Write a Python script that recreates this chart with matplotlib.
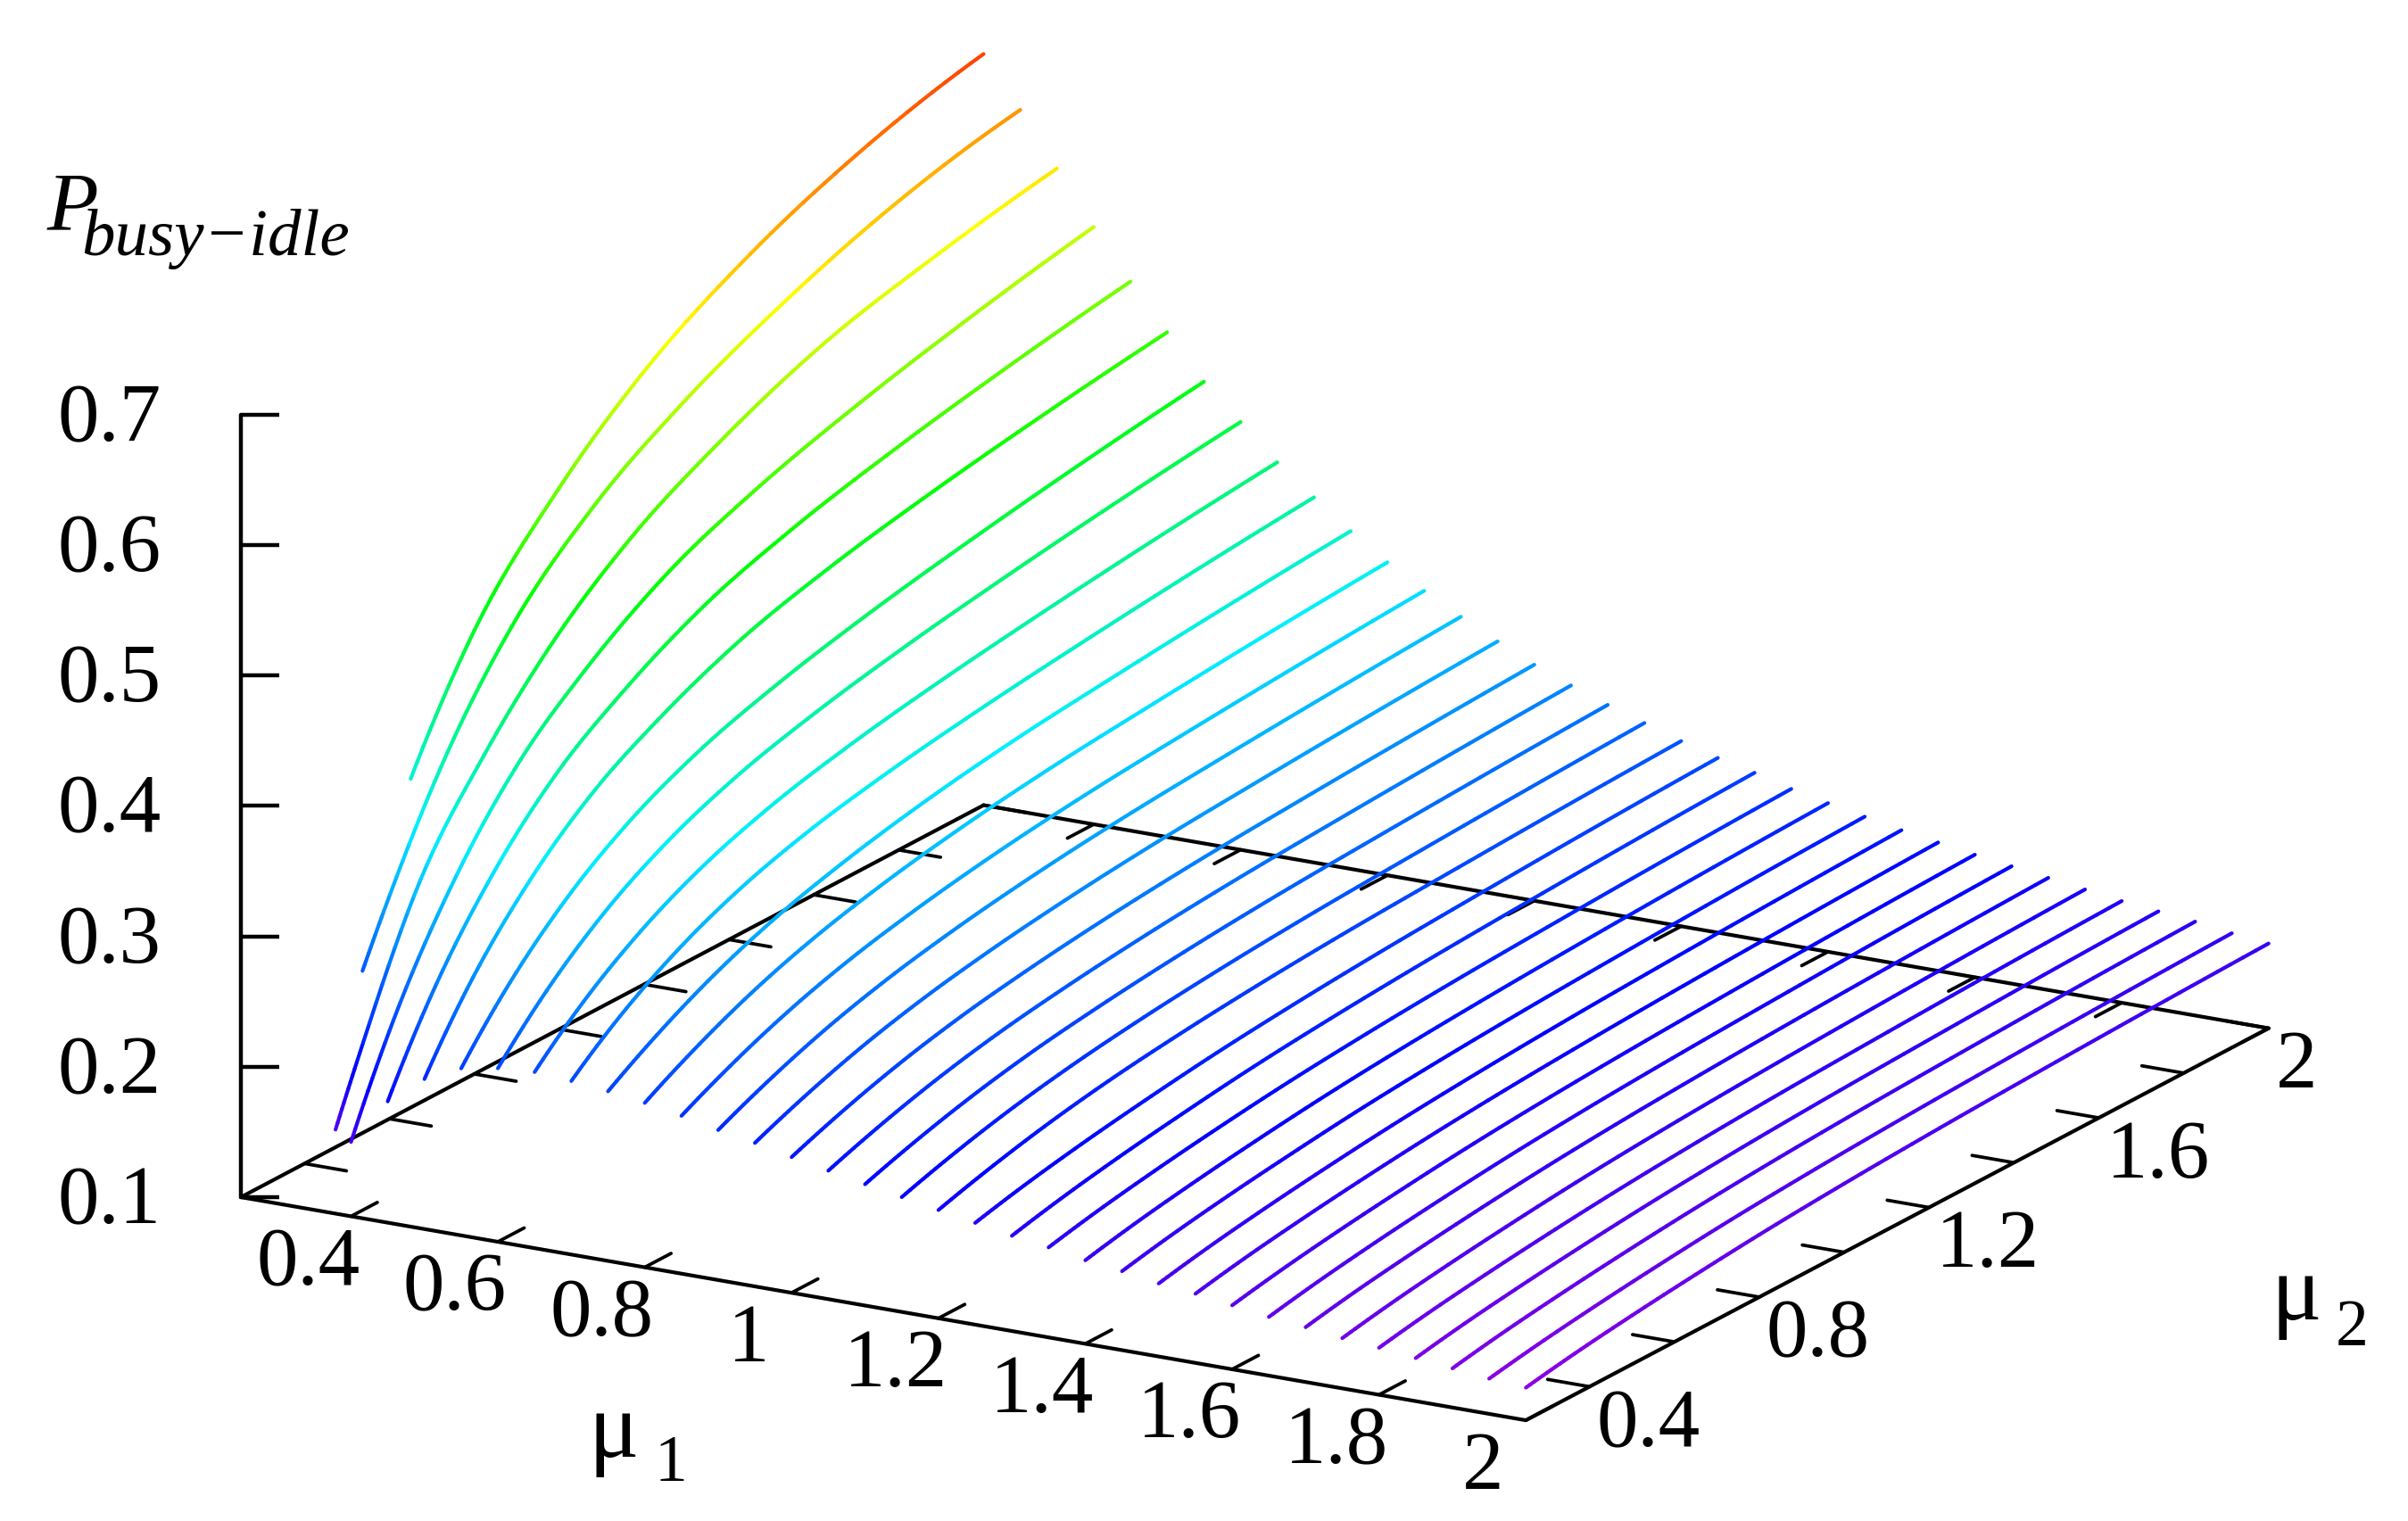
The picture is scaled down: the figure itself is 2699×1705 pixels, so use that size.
#!/usr/bin/python3
import numpy as np
import matplotlib
matplotlib.use('Agg')
import matplotlib.pyplot as plt
from matplotlib.collections import LineCollection
from matplotlib.colors import LinearSegmentedColormap, Normalize

nan = np.nan

# one curve per mu1 value
MU1 = [0.25, 0.30, 0.35, 0.40, 0.45, 0.50, 0.55, 0.60, 0.65, 0.70, 0.75, 0.80,
       0.85, 0.90, 0.95, 1.00, 1.05, 1.10, 1.15, 1.20, 1.25, 1.30, 1.35, 1.40,
       1.45, 1.50, 1.55, 1.60, 1.65, 1.70, 1.75, 1.80, 1.85, 1.90, 1.95, 2.00]

# where each curve begins
MU2_START = [0.65, 0.45, 0.30] + [0.25] * 33
P_START = [0.352, 0.244, 0.153, 0.157, 0.193, 0.215, 0.228, 0.233, 0.235, 0.233,
           0.230, 0.226, 0.221, 0.215, 0.210, 0.204, 0.1985, 0.193, 0.188, 0.183,
           0.178, 0.173, 0.169, 0.164, 0.1605, 0.156, 0.153, 0.149, 0.145, 0.142,
           0.1385, 0.136, 0.133, 0.130, 0.127, 0.125]

# values at these mu2
MU2_GRID = [0.35, 0.5, 0.65, 0.8, 1.0, 1.2, 1.45, 1.7, 2.0]
P_GRID = [
    [nan, nan, nan, 0.440, 0.515, 0.570, 0.617, 0.650, 0.676],
    [nan, 0.281, 0.377, 0.447, 0.508, 0.549, 0.587, 0.616, 0.638],
    [0.196, 0.310, 0.380, 0.435, 0.488, 0.524, 0.558, 0.579, 0.598],
    [0.2332, 0.3194, 0.3816, 0.4237, 0.4658, 0.4930, 0.5179, 0.5380, 0.558],
    [0.2553, 0.3258, 0.3767, 0.4111, 0.4456, 0.4679, 0.4882, 0.5046, 0.521],
    [0.2667, 0.3252, 0.3673, 0.3959, 0.4244, 0.4429, 0.4598, 0.4734, 0.487],
    [0.2687, 0.3161, 0.3500, 0.3738, 0.3952, 0.4111, 0.4269, 0.4404, 0.454],
    [0.2681, 0.3091, 0.3383, 0.3588, 0.3773, 0.3910, 0.4046, 0.4163, 0.428],
    [0.2651, 0.3001, 0.3252, 0.3427, 0.3586, 0.3703, 0.3820, 0.3920, 0.402],
    [0.2595, 0.2903, 0.3124, 0.3278, 0.3418, 0.3521, 0.3624, 0.3712, 0.380],
    [0.2506, 0.2764, 0.2958, 0.3100, 0.3242, 0.3345, 0.3435, 0.3513, 0.359],
    [0.2442, 0.2670, 0.2841, 0.2967, 0.3092, 0.3183, 0.3263, 0.3332, 0.340],
    [0.2373, 0.2577, 0.2730, 0.2842, 0.2955, 0.3036, 0.3108, 0.3169, 0.323],
    [0.2299, 0.2485, 0.2624, 0.2727, 0.2829, 0.2903, 0.2968, 0.3024, 0.308],
    [0.2234, 0.2402, 0.2528, 0.2621, 0.2713, 0.2780, 0.2839, 0.2890, 0.294],
    [0.2163, 0.2317, 0.2433, 0.2517, 0.2602, 0.2664, 0.2718, 0.2764, 0.281],
    [0.2099, 0.2242, 0.2350, 0.2428, 0.2507, 0.2564, 0.2614, 0.2657, 0.270],
    [0.2037, 0.2171, 0.2272, 0.2345, 0.2419, 0.2473, 0.2520, 0.2560, 0.260],
    [0.1981, 0.2107, 0.2201, 0.2271, 0.2340, 0.2390, 0.2434, 0.2472, 0.251],
    [0.1924, 0.2042, 0.2131, 0.2196, 0.2261, 0.2308, 0.2349, 0.2385, 0.242],
    [0.1858, 0.1954, 0.2032, 0.2099, 0.2166, 0.2217, 0.2264, 0.2304, 0.234],
    [0.1806, 0.1899, 0.1975, 0.2041, 0.2106, 0.2155, 0.2201, 0.2240, 0.2275],
    [0.1761, 0.1848, 0.1920, 0.1981, 0.2042, 0.2088, 0.2131, 0.2167, 0.220],
    [0.1710, 0.1795, 0.1865, 0.1925, 0.1985, 0.2030, 0.2073, 0.2108, 0.214],
    [0.1672, 0.1754, 0.1821, 0.1879, 0.1936, 0.1979, 0.2020, 0.2054, 0.2085],
    [0.1626, 0.1706, 0.1772, 0.1828, 0.1884, 0.1927, 0.1967, 0.1999, 0.203],
    [0.1594, 0.1671, 0.1735, 0.1789, 0.1844, 0.1885, 0.1924, 0.1955, 0.1985],
    [0.1553, 0.1630, 0.1693, 0.1747, 0.1801, 0.1841, 0.1879, 0.1911, 0.194],
    [0.1513, 0.1590, 0.1653, 0.1707, 0.1761, 0.1801, 0.1839, 0.1871, 0.190],
    [0.1482, 0.1556, 0.1618, 0.1671, 0.1724, 0.1763, 0.1801, 0.1831, 0.186],
    [0.1446, 0.1520, 0.1581, 0.1633, 0.1685, 0.1724, 0.1761, 0.1792, 0.182],
    [0.1419, 0.1490, 0.1549, 0.1599, 0.1650, 0.1688, 0.1723, 0.1753, 0.178],
    [0.1389, 0.1460, 0.1519, 0.1569, 0.1620, 0.1658, 0.1693, 0.1723, 0.175],
    [0.1359, 0.1430, 0.1489, 0.1539, 0.1590, 0.1628, 0.1663, 0.1693, 0.172],
    [0.1327, 0.1397, 0.1455, 0.1504, 0.1553, 0.1590, 0.1625, 0.1653, 0.168],
    [0.1306, 0.1374, 0.1430, 0.1478, 0.1526, 0.1562, 0.1596, 0.1624, 0.165],
]

MU1_TICKS = [0.4, 0.6, 0.8, 1.0, 1.2, 1.4, 1.6, 1.8, 2.0]
MU1_LABELS = ['0.4', '0.6', '0.8', '1', '1.2', '1.4', '1.6', '1.8', '2']
MU2_TICKS = [0.4, 0.6, 0.8, 1.0, 1.2, 1.4, 1.6, 1.8, 2.0]
MU2_LABELS = ['0.4', '', '0.8', '', '1.2', '', '1.6', '', '2']
P_TICKS = [0.1, 0.2, 0.3, 0.4, 0.5, 0.6, 0.7]
P_LABELS = ['0.1', '0.2', '0.3', '0.4', '0.5', '0.6', '0.7']

MU_MIN, MU_MAX = 0.25, 2.0
P_MIN = 0.1


def project(mu1, mu2, p):
    # oblique view like gnuplot's splot, result in image pixels
    x = 270 + 823.0 * (mu1 - MU_MIN) + 475.7 * (mu2 - MU_MIN)
    y = 1343 + 142.9 * (mu1 - MU_MIN) - 251.1 * (mu2 - MU_MIN) - 1462.0 * (p - P_MIN)
    return x, y


def seg(ax, a, b, lw=3.0):
    xa, ya = project(*a)
    xb, yb = project(*b)
    ax.plot([xa, xb], [ya, yb], color='black', lw=lw, solid_capstyle='round', zorder=1)


def smooth_line(mus, ps, steps=10):
    # draw the read values as a smooth line (hermite pieces), like gnuplot's smooth option
    mus = np.array(mus)
    ps = np.array(ps)
    slopes = np.gradient(ps, mus, edge_order=2)
    out_m, out_p = [], []
    for i in range(len(mus) - 1):
        h = mus[i + 1] - mus[i]
        t = np.linspace(0, 1, steps, endpoint=False)
        out_m.append(mus[i] + h * t)
        out_p.append((2 * t**3 - 3 * t**2 + 1) * ps[i] + (t**3 - 2 * t**2 + t) * h * slopes[i]
                     + (-2 * t**3 + 3 * t**2) * ps[i + 1] + (t**3 - t**2) * h * slopes[i + 1])
    out_m.append([mus[-1]])
    out_p.append([ps[-1]])
    return np.concatenate(out_m), np.concatenate(out_p)


palette = LinearSegmentedColormap.from_list('pal', [
    (0.00, (150 / 255, 0, 225 / 255)),
    (0.125, (0, 0, 1)),
    (0.375, (0, 240 / 255, 1)),
    (0.60, (0, 1, 0)),
    (0.82, (1, 1, 0)),
    (1.00, (1, 40 / 255, 0)),
])
norm = Normalize(0.12, 0.69)

fig = plt.figure(figsize=(26.99, 17.06), dpi=100)
ax = fig.add_axes([0, 0, 1, 1])
ax.set_xlim(0, 2699)
ax.set_ylim(1706, 0)
ax.axis('off')

# base frame
seg(ax, (MU_MIN, MU_MIN, P_MIN), (MU_MAX, MU_MIN, P_MIN))
seg(ax, (MU_MAX, MU_MIN, P_MIN), (MU_MAX, MU_MAX, P_MIN))
seg(ax, (MU_MAX, MU_MAX, P_MIN), (MU_MIN, MU_MAX, P_MIN))
seg(ax, (MU_MIN, MU_MAX, P_MIN), (MU_MIN, MU_MIN, P_MIN))
seg(ax, (MU_MIN, MU_MIN, P_MIN), (MU_MIN, MU_MIN, P_TICKS[-1]), lw=3.2)

tick_font = dict(family='Liberation Serif', fontsize=67, color='black')

for v, lab in zip(MU1_TICKS, MU1_LABELS):
    seg(ax, (v, MU_MIN, P_MIN), (v, MU_MIN + 0.062, P_MIN), lw=2.7)
    seg(ax, (v, MU_MAX, P_MIN), (v, MU_MAX - 0.062, P_MIN), lw=2.7)
    x, y = project(v, MU_MIN, P_MIN)
    ax.text(x - 48, y + 53, lab, ha='center', va='center', **tick_font)

for v, lab in zip(MU2_TICKS, MU2_LABELS):
    seg(ax, (MU_MIN, v, P_MIN), (MU_MIN + 0.057, v, P_MIN), lw=2.7)
    seg(ax, (MU_MAX, v, P_MIN), (MU_MAX - 0.057, v, P_MIN), lw=2.7)
    x, y = project(MU_MAX, v, P_MIN)
    ax.text(x + 8, y + 43, lab, ha='left', va='center', **tick_font)

for v, lab in zip(P_TICKS, P_LABELS):
    x, y = project(MU_MIN, MU_MIN, v)
    ax.plot([x, x + 43], [y, y], color='black', lw=3.2, solid_capstyle='butt', zorder=1)
    ax.text(x - 89, y + 6, lab, ha='right', va='center', **tick_font)

# curves, colour follows the height along each line
for mu1, m0, p0, row in zip(MU1, MU2_START, P_START, P_GRID):
    mus = [m0] + [m for m, p in zip(MU2_GRID, row) if np.isfinite(p)]
    ps = [p0] + [p for p in row if np.isfinite(p)]
    line_m, line_p = smooth_line(mus, ps)
    xs, ys = project(mu1, line_m, line_p)
    pts = np.column_stack([xs, ys])
    pieces = np.stack([pts[:-1], pts[1:]], axis=1)
    lc = LineCollection(pieces, cmap=palette, norm=norm, linewidths=3.0,
                        capstyle='round', zorder=3)
    lc.set_array((line_p[:-1] + line_p[1:]) / 2)
    ax.add_collection(lc)

# axis titles
ax.text(53, 257, 'P', family='Liberation Serif', style='italic', fontsize=68,
        ha='left', va='baseline')
ax.text(91, 286, 'busy\u2212idle', family='Liberation Serif', style='italic', fontsize=54,
        ha='left', va='baseline')
ax.text(660, 1633, '\u03bc', family='Liberation Serif', fontsize=76, ha='left', va='baseline')
ax.text(734, 1660, '1', family='Liberation Serif', fontsize=53, ha='left', va='baseline')
ax.text(2546, 1479, '\u03bc', family='Liberation Serif', fontsize=76, ha='left', va='baseline')
ax.text(2618, 1508, '2', family='Liberation Serif', fontsize=53, ha='left', va='baseline')

fig.savefig('out.png', dpi=100)
